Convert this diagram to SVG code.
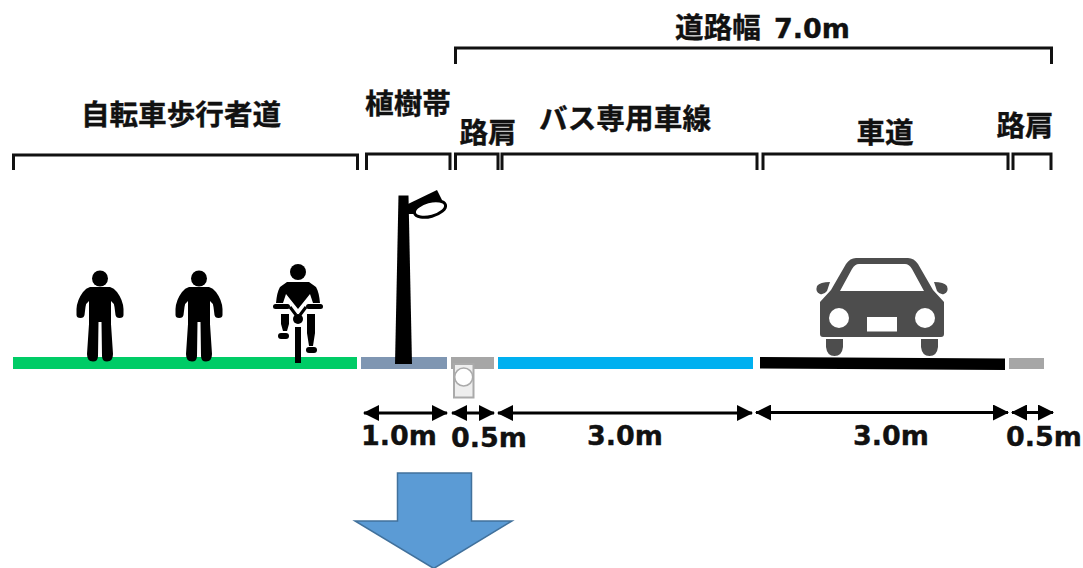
<svg xmlns="http://www.w3.org/2000/svg" width="1083" height="568" viewBox="0 0 1083 568">
<style>
text{font-family:"Noto Sans CJK JP","DejaVu Sans",sans-serif;font-weight:700;fill:#111;text-anchor:middle;stroke:#111;stroke-width:.35}
.j{font-size:28.6px}
.n{font-family:"DejaVu Sans",sans-serif;font-size:27px}
.b{fill:none;stroke:#111;stroke-width:3}
.d{fill:none;stroke:#000;stroke-width:3;marker-start:url(#a);marker-end:url(#a)}
.k{fill:#000}
</style>
<defs>
<marker id="a" viewBox="0 0 16 16" refX="15" refY="8" markerWidth="16" markerHeight="16" markerUnits="userSpaceOnUse" orient="auto-start-reverse"><path d="M0 0L16 8L0 16z" fill="#000"/></marker>
<g id="person">
<circle cx="0" cy="-80.500" r="8" fill="#000"/>
<path class="k" d="M-10-72H10Q14-71 17-67Q23-59 23.500-50V-44Q23.500-41 19.500-41Q16-41 15.500-44L14.500-52Q14-56 11-58V-35L13-5Q13 2.500 7 2.500Q2 2.500 2-3L1.500-37H-1.500L-2-3Q-2 2.500-7 2.500Q-13 2.500-13-5L-11-35V-58Q-14-56-14.500-52L-15.500-44Q-16-41-19.500-41Q-23.500-41-23.500-44V-50Q-23-59-17-67Q-14-71-10-72z"/>
</g>
</defs>
<rect width="1083" height="568" fill="#fff"/>
<g id="brackets">
<path class="b" d="M13.500 170V155H357.500V170"/>
<path class="b" d="M366.500 170V154H450V170"/>
<path class="b" d="M455.500 170V154H498V170"/>
<path class="b" d="M502 170V154H757V170"/>
<path class="b" d="M763 170V154H1008V170"/>
<path class="b" d="M1013 170V154H1051V170"/>
<path class="b" d="M455.500 64V48H1051.500V64"/>
</g>
<g id="labels">
<text class="j" x="181" y="125">自転車歩行者道</text>
<text class="j" x="408" y="114">植樹帯</text>
<text class="j" x="488" y="143">路肩</text>
<text class="j" x="625" y="129" textLength="172" lengthAdjust="spacing">バス専用車線</text>
<text class="j" x="885" y="143">車道</text>
<text class="j" x="1025" y="136">路肩</text>
<text class="j" x="718" y="38">道路幅</text>
<text class="n" x="812" y="38">7.0m</text>
<text class="n" x="399" y="445">1.0m</text>
<text class="n" x="489" y="447">0.5m</text>
<text class="n" x="625" y="445">3.0m</text>
<text class="n" x="891" y="445">3.0m</text>
<text class="n" x="1044" y="446">0.5m</text>
</g>
<g id="surfaces">
<rect x="13" y="357" width="344" height="12" fill="#00cc66"/>
<rect x="361" y="357" width="86" height="12" fill="#7f96b2"/>
<rect x="451" y="357" width="43" height="12" fill="#a6a6a6"/>
<rect x="498" y="357" width="255" height="12" fill="#00b0f0"/>
<path d="M760 357L1005 358.500V370L760 368.500z" fill="#000"/>
<rect x="1009" y="358" width="35" height="11" fill="#a6a6a6"/>
</g>
<g id="gutter">
<rect x="454" y="364" width="19.500" height="33.500" fill="#eee" stroke="#aaa" stroke-width="2"/>
<circle cx="463.700" cy="377" r="9" fill="#fff" stroke="#aaa" stroke-width="1.500"/>
</g>
<g id="dimensions">
<path class="d" d="M364 413H447"/>
<path class="d" d="M452 413H494"/>
<path class="d" d="M498 413H752"/>
<path class="d" d="M756 412.500H1008"/>
<path class="d" d="M1012 412.500H1053"/>
</g>
<g id="person1"><use href="#person" x="100" y="359"/></g>
<g id="person2"><use href="#person" x="199" y="359"/></g>
<g id="cyclist">
<circle cx="298" cy="272" r="8" fill="#000"/>
<path class="k" d="M287 282H309L316 287Q319 292 320 303H313L310 294L298 309L286 294L283 303H276Q277 292 280 287z"/>
<rect x="273" y="304" width="17" height="5" rx="2.500" class="k"/>
<rect x="306" y="304" width="17" height="5" rx="2.500" class="k"/>
<path d="M290 307L296 315M306 307L300 315" stroke="#000" stroke-width="3" fill="none"/>
<circle cx="298" cy="319" r="5" fill="#000"/>
<rect x="295" y="327" width="6" height="36" class="k"/>
<path class="k" d="M281 314H289V324L287 331H283L281 324z"/>
<rect x="278" y="333" width="11" height="6" rx="3" class="k"/>
<path class="k" d="M307 314H315V333L313 346H309L307 333z"/>
<rect x="306" y="347" width="11" height="6" rx="3" class="k"/>
</g>
<g id="lamp">
<path class="k" d="M398.500 195.500H408.500L412 364H395z"/>
<path class="k" d="M408 204L437 190L442 200L414 214L408 214z"/>
<ellipse cx="430" cy="209" rx="16" ry="7.500" transform="rotate(-15 430 209)" fill="#fff" stroke="#000" stroke-width="3"/>
</g>
<g id="car" fill="#4d4d4d">
<path fill-rule="evenodd" d="M856 258H908Q914 258 918 264L933 290L944 302V334Q944 337 941 337H823Q820 337 820 334V302L831 290L846 264Q850 258 856 258zM859 264Q855 264 852 269L840 291H924L912 269Q909 264 905 264z"/>
<path d="M830 282Q820 282 817 286Q815 292 820 294Q824 295 827 291zM934 282Q944 282 947 286Q949 292 944 294Q940 295 937 291z"/>
<path d="M826 339H843V347Q842 356 834.500 356Q827 356 826 347zM921 339H938V347Q937 356 929.500 356Q922 356 921 347z"/>
<circle cx="839" cy="318" r="10" fill="#fff"/>
<circle cx="925" cy="318" r="10" fill="#fff"/>
<rect x="867" y="317" width="30" height="14.500" fill="#fff"/>
</g>
<g id="down-arrow">
<path d="M397.500 473H471.500V521H512L434.500 568H433L355 521H397.500z" fill="#5b9bd5" stroke="#41719c" stroke-width="1.500"/>
</g>
</svg>
